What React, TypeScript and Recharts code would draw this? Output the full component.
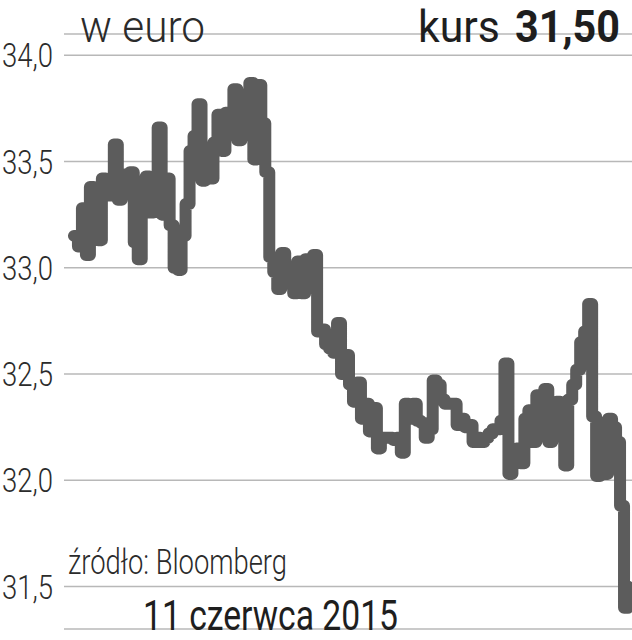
import { LineChart, Line, XAxis, YAxis, CartesianGrid } from 'recharts';

// kurs w euro, odczyt co ~4 px z wykresu
const kurs = [
  33.15, 33.1, 33.28, 33.06, 33.38, 33.3, 33.13, 33.42, 33.34, 33.4,
  33.58, 33.32, 33.36, 33.44, 33.45, 33.12, 33.04, 33.3, 33.43, 33.26,
  33.4, 33.66, 33.25, 33.42, 33.2, 33.0, 32.99, 33.15, 33.3, 33.55,
  33.62, 33.77, 33.41, 33.5, 33.42, 33.59, 33.72, 33.55, 33.73, 33.65,
  33.84, 33.6, 33.78, 33.66, 33.87, 33.51, 33.86, 33.68, 33.45, 33.05,
  32.98, 32.9, 33.07, 32.96, 33.0, 32.88, 33.03, 32.88, 33.04, 33.0,
  33.06, 32.7, 32.71, 32.64, 32.62, 32.6, 32.74, 32.5, 32.59, 32.45,
  32.37, 32.46, 32.29, 32.36, 32.23, 32.34, 32.15, 32.2, 32.2, 32.2,
  32.19, 32.2, 32.13, 32.36, 32.29, 32.36, 32.28, 32.27, 32.2, 32.24,
  32.47, 32.45, 32.38, 32.36, 32.36, 32.36, 32.26, 32.29, 32.25, 32.26,
  32.18, 32.2, 32.18, 32.2, 32.22, 32.24, 32.24, 32.28, 32.55, 32.03,
  32.12, 32.15, 32.08, 32.29, 32.33, 32.18, 32.4, 32.3, 32.43, 32.18,
  32.28, 32.37, 32.34, 32.07, 32.38, 32.45, 32.52, 32.65, 32.7, 32.83,
  32.3, 32.02, 32.27, 32.03, 32.29, 32.25, 32.18, 31.88, 31.4, 31.5,
];

const yTicks = [31.5, 32.0, 32.5, 33.0, 33.5, 34.0];
const yDomain = [31.3, 34.1];

const title = 'w euro';
const kursLabel = 'kurs';
const kursValue = '31,50';
const source = 'źródło: Bloomberg';
const dateLabel = '11 czerwca 2015';

const data = kurs.map((v, i) => ({ i, v }));

const FONT = 'Roboto, "Liberation Sans", sans-serif';

function YTick({ x, y, payload }: any) {
  return (
    <text
      x={x}
      y={y}
      dy="0.355em"
      textAnchor="end"
      fontFamily={FONT}
      fontWeight={300}
      fontSize={34}
      fill="#2b2b2b"
      textLength={51}
      lengthAdjust="spacingAndGlyphs"
    >
      {payload.value.toFixed(1).replace('.', ',')}
    </text>
  );
}

export default function App() {
  return (
    <div style={{ position: 'absolute', left: 0, top: 0, width: 632, height: 640, background: '#fff' }}>
      <LineChart width={632} height={640} data={data} margin={{ top: 34, right: 0, bottom: 11, left: 0 }}>
        <CartesianGrid vertical={false} stroke="#b8b8b8" strokeWidth={1.5} />
        <XAxis type="number" dataKey="i" domain={[-2.5, kurs.length]} hide />
        <YAxis
          type="number"
          domain={yDomain}
          ticks={yTicks}
          width={64}
          axisLine={false}
          tickLine={false}
          tickSize={0}
          tickMargin={11}
          tick={<YTick />}
          interval={0}
        />
        <Line
          type="stepAfter"
          dataKey="v"
          stroke="#5c5c5c"
          strokeWidth={12}
          strokeLinejoin="round"
          strokeLinecap="round"
          dot={false}
          isAnimationActive={false}
        />
      </LineChart>
      <svg
        width={632}
        height={640}
        style={{ position: 'absolute', left: 0, top: 0, pointerEvents: 'none' }}
      >
        <text x={80} y={42} fontFamily={FONT} fontWeight={300} fontSize={44} fill="#2b2b2b" textLength={125} lengthAdjust="spacingAndGlyphs">
          {title}
        </text>
        <text x={418} y={42} fontFamily={FONT} fontWeight={400} fontSize={44} fill="#1e1e1e" textLength={82} lengthAdjust="spacingAndGlyphs">
          {kursLabel}
        </text>
        <text x={515} y={42} fontFamily={FONT} fontWeight={700} fontSize={45} fill="#1e1e1e" textLength={105} lengthAdjust="spacingAndGlyphs">
          {kursValue}
        </text>
        <text x={68} y={574} fontFamily={FONT} fontWeight={300} fontSize={35} fill="#2b2b2b" textLength={219} lengthAdjust="spacingAndGlyphs">
          {source}
        </text>
        <text x={143} y={630} fontFamily={FONT} fontWeight={400} fontSize={43} fill="#1e1e1e" textLength={255} lengthAdjust="spacingAndGlyphs">
          {dateLabel}
        </text>
      </svg>
    </div>
  );
}
